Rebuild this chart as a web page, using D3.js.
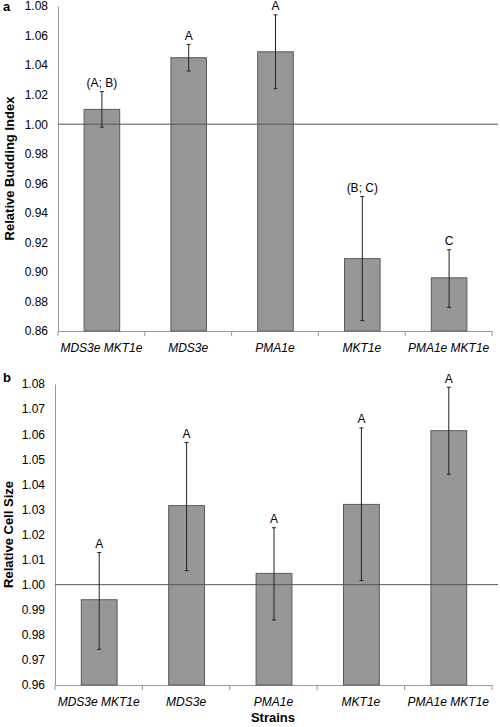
<!DOCTYPE html>
<html><head><meta charset="utf-8">
<script src="https://cdn.jsdelivr.net/npm/d3@7"></script>
<style>body{margin:0;background:#fff}svg{display:block}text{font-family:"Liberation Sans",Arial,sans-serif}</style>
</head><body>
<script>
const strains = ["MDS3e MKT1e","MDS3e","PMA1e","MKT1e","PMA1e MKT1e"];
const buddingValues = [1.010, 1.045, 1.049, 0.909, 0.896];
const buddingErrLow = [0.998, 1.036, 1.024, 0.867, 0.876];
const buddingErrHigh = [1.022, 1.054, 1.074, 0.951, 0.915];
const buddingGroups = ["(A; B)","A","A","(B; C)","C"];
const buddingTicks = [0.86,0.88,0.90,0.92,0.94,0.96,0.98,1.00,1.02,1.04,1.06,1.08];

const sizeValues = [0.994, 1.0315, 1.0045, 1.032, 1.0614];
const sizeErrLow = [0.9742, 1.0056, 0.9859, 1.0016, 1.044];
const sizeErrHigh = [1.0128, 1.0567, 1.0227, 1.0625, 1.0787];
const sizeGroups = ["A","A","A","A","A"];
const sizeTicks = [0.96,0.97,0.98,0.99,1.00,1.01,1.02,1.03,1.04,1.05,1.06,1.07,1.08];

const svg = d3.select("body").append("svg").attr("width",500).attr("height",727);

function panel(o){
  const g = svg.append("g");
  const x = d3.scaleBand().domain(strains).range([o.x0,o.x1]).paddingInner(0.59).paddingOuter(0.295);
  const xb = d3.scaleBand().domain(strains).range([o.x0,o.x1]);
  const y = d3.scaleLinear().domain([o.ticks[0],o.ticks[o.ticks.length-1]]).range([o.y1,o.y0]);
  const ya = g.append("g").attr("transform",`translate(${o.x0},0)`)
    .call(d3.axisLeft(y).tickValues(o.ticks).tickFormat(d3.format(".2f")).tickSize(0).tickPadding(10));
  ya.select(".domain").attr("stroke","#999");
  ya.selectAll("text").attr("font-size",12).attr("fill","#000");
  const xa = g.append("g").attr("transform",`translate(0,${o.y1})`)
    .call(d3.axisBottom(xb).tickSize(0).tickPadding(12));
  xa.select(".domain").attr("stroke","#999");
  xa.selectAll("text").attr("font-size",12).attr("font-style","italic").attr("fill","#000");
  g.selectAll(".bt").data(d3.range(6)).join("line")
    .attr("x1",i=>o.x0+i*xb.step()).attr("x2",i=>o.x0+i*xb.step())
    .attr("y1",o.y1).attr("y2",o.y1+5).attr("stroke","#999");
  g.selectAll(".bar").data(strains).join("rect")
    .attr("x",d=>x(d)+0.5).attr("width",x.bandwidth())
    .attr("y",(d,i)=>y(o.values[i])).attr("height",(d,i)=>o.y1-y(o.values[i]))
    .attr("fill","#979797").attr("stroke","#5a5a5a").attr("stroke-width",1);
  g.append("line").attr("x1",o.x0).attr("x2",498).attr("y1",y(1)).attr("y2",y(1))
    .attr("stroke","#555").attr("stroke-width",1);
  strains.forEach((d,i)=>{
    const cx = x(d)+x.bandwidth()/2+0.5;
    g.append("line").attr("x1",cx).attr("x2",cx).attr("y1",y(o.lo[i])).attr("y2",y(o.hi[i])).attr("stroke","#222");
    [o.lo[i],o.hi[i]].forEach(v=>g.append("line").attr("x1",cx-2).attr("x2",cx+2).attr("y1",y(v)).attr("y2",y(v)).attr("stroke","#222"));
    g.append("text").attr("x",cx).attr("y",y(o.hi[i])-4.5).attr("text-anchor","middle")
      .attr("font-size",12).text(o.groups[i]);
  });
  g.append("text").attr("transform",`translate(${o.labX},${(o.y0+o.y1)/2}) rotate(-90)`)
    .attr("text-anchor","middle").attr("font-size",13).attr("font-weight","bold").text(o.ylabel);
  g.append("text").attr("x",o.panX).attr("y",o.panY).attr("font-size",13).attr("font-weight","bold").text(o.panel);
}

panel({x0:58,x1:492,y0:6,y1:331,ticks:buddingTicks,values:buddingValues,lo:buddingErrLow,hi:buddingErrHigh,
  groups:buddingGroups,ylabel:"Relative Budding Index",labX:14,panel:"a",panX:3,panY:11});
panel({x0:55,x1:492,y0:384,y1:685,ticks:sizeTicks,values:sizeValues,lo:sizeErrLow,hi:sizeErrHigh,
  groups:sizeGroups,ylabel:"Relative Cell Size",labX:13,panel:"b",panX:3,panY:382});
svg.append("text").attr("x",273).attr("y",722).attr("text-anchor","middle").attr("font-size",13)
  .attr("font-weight","bold").text("Strains");
</script>
</body></html>
